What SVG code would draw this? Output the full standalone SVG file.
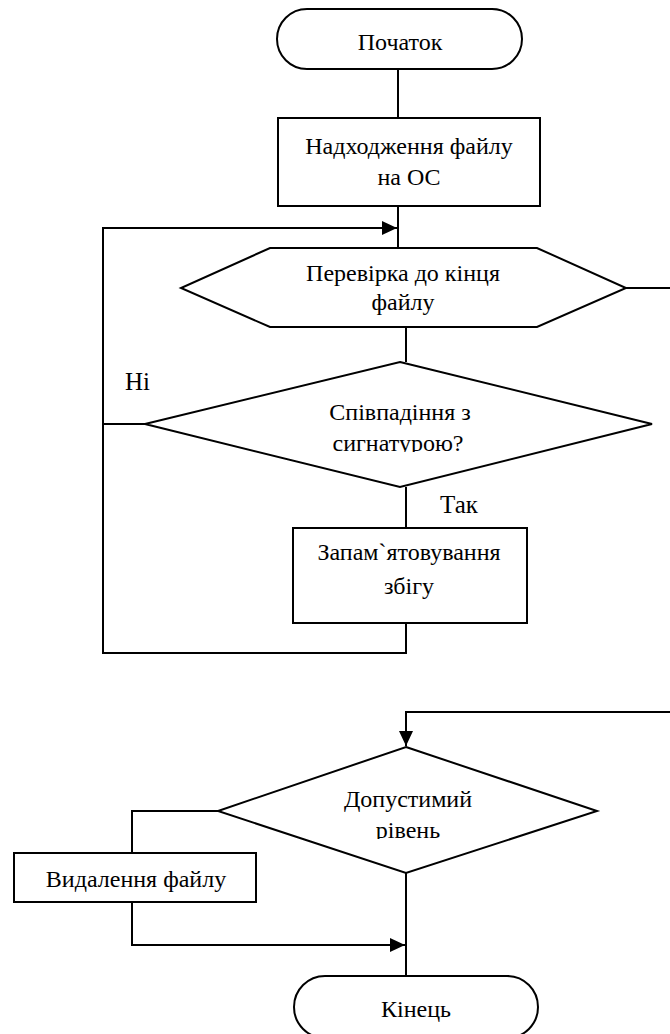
<svg xmlns="http://www.w3.org/2000/svg" width="670" height="1034" viewBox="0 0 670 1034">
<style>
.s{fill:#fff;stroke:#000;stroke-width:2}
.c{fill:none;stroke:#000;stroke-width:2}
text{font-family:'Liberation Serif','Times New Roman','DejaVu Serif',serif;fill:#000}
.t{font-size:24px;text-anchor:middle}
.l{font-size:25px}
</style>
<defs>
<marker id="ah" markerWidth="15" markerHeight="14" refX="15" refY="7" orient="auto" markerUnits="userSpaceOnUse">
<path d="M0,0 L15,7 L0,14 Z" fill="#000"/>
</marker>
<clipPath id="cp1"><rect x="0" y="0" width="670" height="452"/></clipPath>
<clipPath id="cp2"><rect x="0" y="0" width="670" height="839"/></clipPath>
</defs>
<rect width="670" height="1034" fill="#fff"/>
<g id="connectors">
<path class="c" d="M398,69 V118"/>
<path class="c" d="M398,206 V248"/>
<path class="c" d="M103,424 V228 H397" marker-end="url(#ah)"/>
<path class="c" d="M406,327 V362"/>
<path class="c" d="M145,424 H103"/>
<path class="c" d="M406,487 V528"/>
<path class="c" d="M406,623 V653 H103 V424"/>
<path class="c" d="M626,288 H670"/>
<path class="c" d="M670,712 H406 V746" marker-end="url(#ah)"/>
<path class="c" d="M218,811 H132 V853"/>
<path class="c" d="M132,902 V945 H405" marker-end="url(#ah)"/>
<path class="c" d="M406,873 V976"/>
</g>
<g id="start">
<rect class="s" x="277" y="9" width="245" height="60" rx="30" ry="30"/>
<text class="t" x="400" y="50">Початок</text>
</g>
<g id="receive">
<rect class="s" x="278" y="118" width="262" height="88"/>
<text class="t" x="409" y="154">Надходження файлу</text>
<text class="t" x="409" y="185">на ОС</text>
</g>
<g id="loop">
<polygon class="s" points="270,248 537,248 626,288 537,327 270,327 181,288"/>
<text class="t" x="403" y="281">Перевірка до кінця</text>
<text class="t" x="403" y="310">файлу</text>
</g>
<g id="match">
<polygon class="s" points="400,362 652,424 400,487 145,424"/>
<text class="t" x="400" y="420">Співпадіння з</text>
<text class="t" x="398" y="451" clip-path="url(#cp1)">сигнатурою?</text>
</g>
<text class="l" x="125" y="390">Ні</text>
<text class="l" x="440" y="513">Так</text>
<g id="remember">
<rect class="s" x="293" y="528" width="234" height="95"/>
<text class="t" x="409" y="560">Запам`ятовування</text>
<text class="t" x="409" y="594">збігу</text>
</g>
<g id="level">
<polygon class="s" points="406,747 597,811 406,873 218,811"/>
<text class="t" x="408" y="807">Допустимий</text>
<text class="t" x="408" y="838" clip-path="url(#cp2)">рівень</text>
</g>
<g id="delete">
<rect class="s" x="14" y="853" width="242" height="49"/>
<text class="t" x="136" y="887">Видалення файлу</text>
</g>
<g id="end">
<rect class="s" x="294" y="976" width="244" height="62" rx="31" ry="31"/>
<text class="t" x="416" y="1017">Кінець</text>
</g>
</svg>
